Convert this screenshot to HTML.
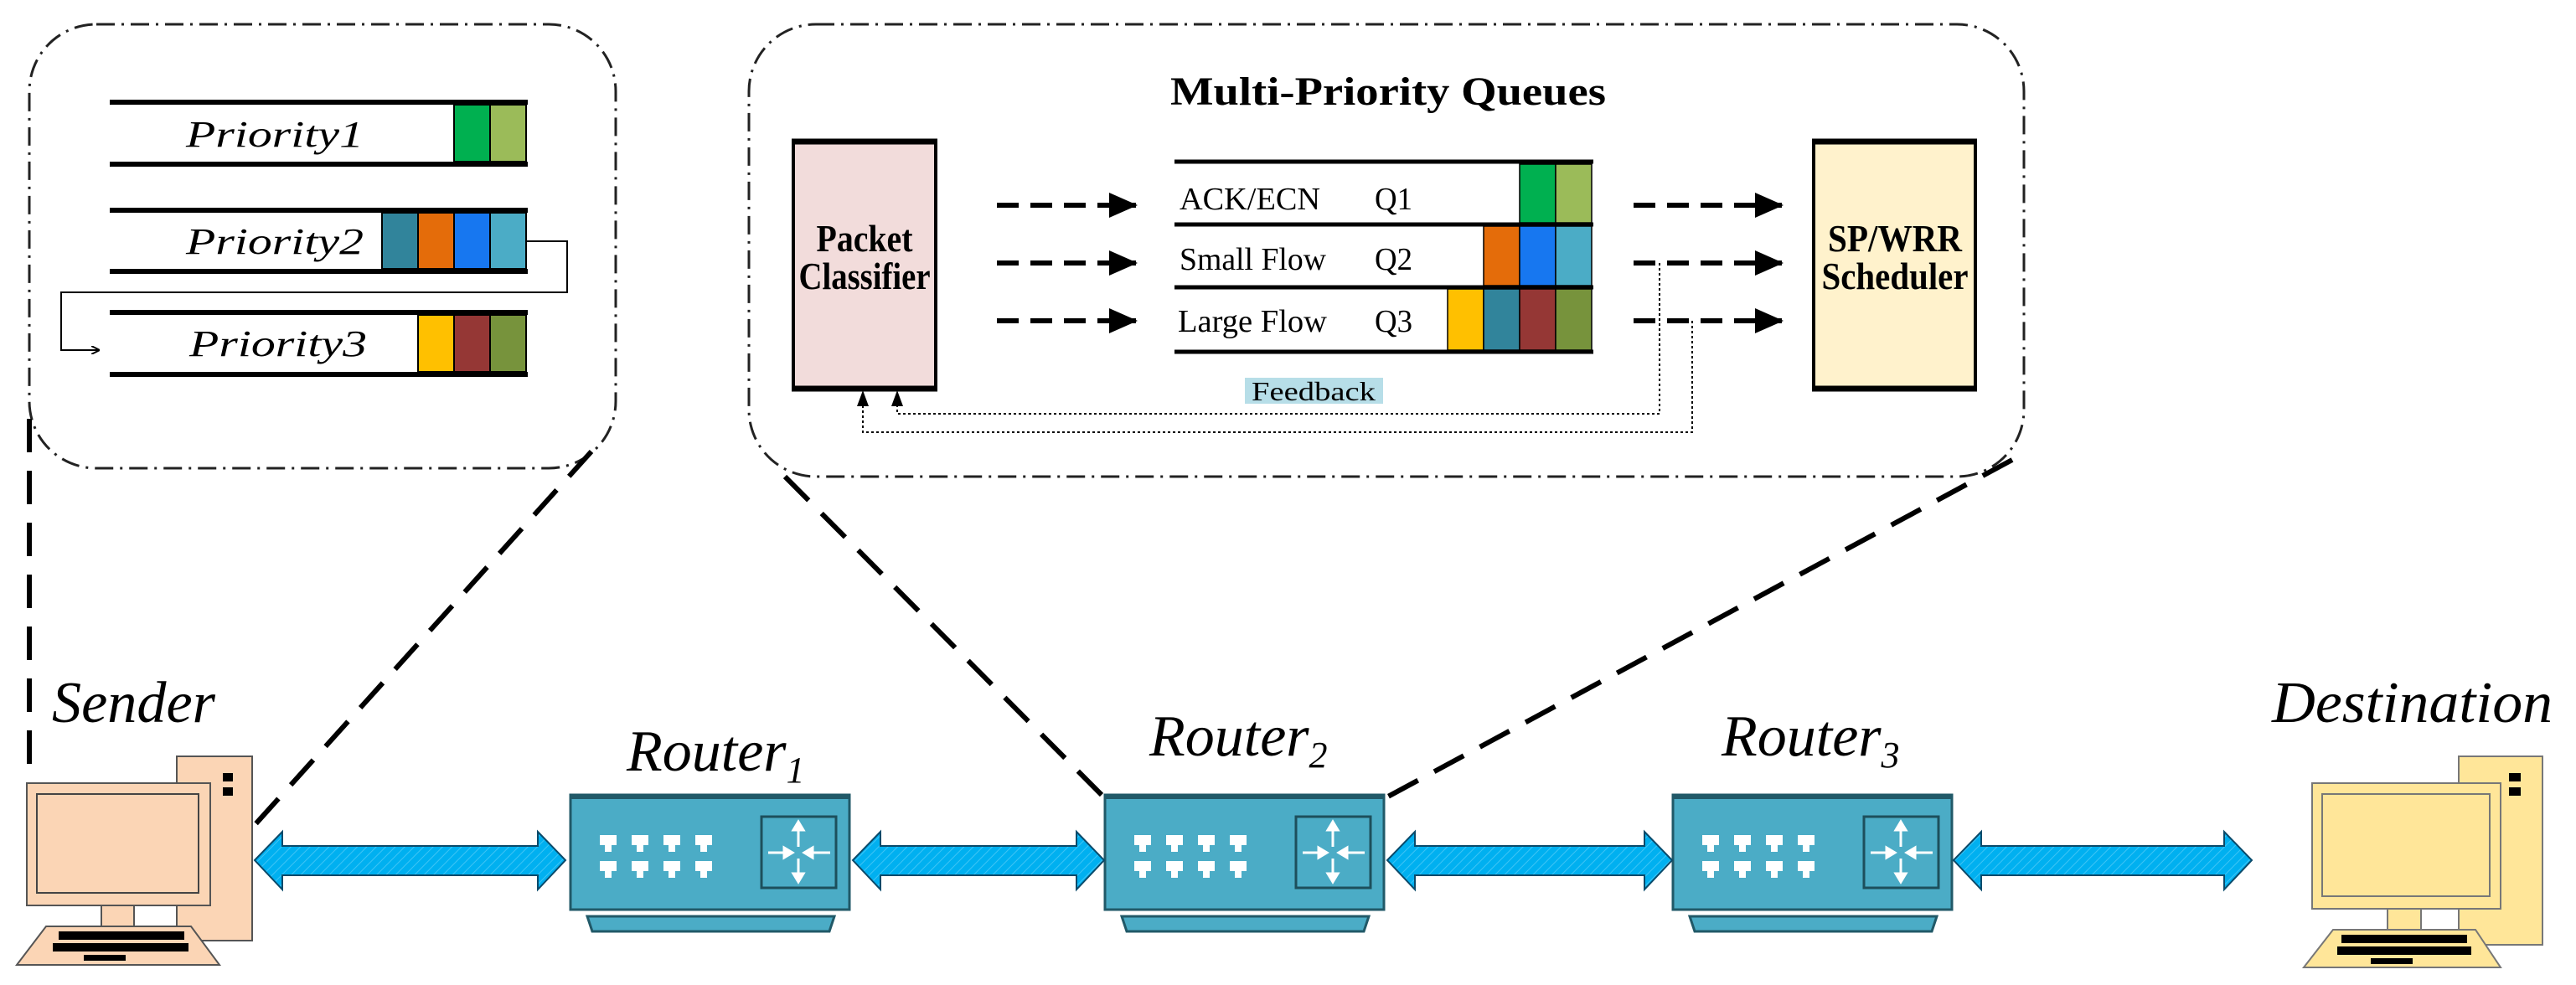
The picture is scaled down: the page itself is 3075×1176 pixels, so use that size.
<!DOCTYPE html>
<html><head><meta charset="utf-8"><style>html,body{margin:0;padding:0;background:#fff}svg{display:block}</style></head>
<body>
<svg width="3075" height="1176" viewBox="0 0 3075 1176" xmlns="http://www.w3.org/2000/svg" font-family="'Liberation Serif',serif">
<defs>
<marker id="ah" markerWidth="10" markerHeight="10" refX="9" refY="5" orient="auto" markerUnits="userSpaceOnUse"><path d="M0,0 L10,5 L0,10" fill="none" stroke="#000" stroke-width="2"/></marker>
<marker id="big" markerWidth="34" markerHeight="30" refX="32" refY="15" orient="auto" markerUnits="userSpaceOnUse"><path d="M0,0 L34,15 L0,30 Z" fill="#000"/></marker>
<g id="router">
<rect x="0" y="0" width="333" height="137" fill="#4bacc6" stroke="#215968" stroke-width="3"/>
<rect x="0" y="0" width="333" height="5" fill="#215968"/>
<path d="M20,145 L315,145 L309,163 L26,163 Z" fill="#4bacc6" stroke="#215968" stroke-width="3"/>
<rect x="228" y="26" width="89" height="85" fill="#4bacc6" stroke="#1d4f5c" stroke-width="3"/>
<g fill="#fff">
<path d="M35,48 h20 v12 h-6 v8 h-8 v-8 h-6z"/><path d="M73,48 h20 v12 h-6 v8 h-8 v-8 h-6z"/><path d="M111,48 h20 v12 h-6 v8 h-8 v-8 h-6z"/><path d="M149,48 h20 v12 h-6 v8 h-8 v-8 h-6z"/>
<path d="M35,79 h20 v12 h-6 v8 h-8 v-8 h-6z"/><path d="M73,79 h20 v12 h-6 v8 h-8 v-8 h-6z"/><path d="M111,79 h20 v12 h-6 v8 h-8 v-8 h-6z"/><path d="M149,79 h20 v12 h-6 v8 h-8 v-8 h-6z"/>
</g>
<g stroke="#fff" stroke-width="3" fill="#fff">
<line x1="272" y1="34" x2="272" y2="62"/><path d="M266,42 L272,32 L278,42Z"/>
<line x1="272" y1="76" x2="272" y2="102"/><path d="M266,94 L272,104 L278,94Z"/>
<line x1="236" y1="69" x2="262" y2="69"/><path d="M255,63 L265,69 L255,75Z"/>
<line x1="282" y1="69" x2="310" y2="69"/><path d="M289,63 L279,69 L289,75Z"/>
</g>
</g>
<pattern id="hatch" width="8" height="8" patternUnits="userSpaceOnUse" patternTransform="rotate(45)"><rect width="8" height="8" fill="#00b0f0"/><line x1="0" y1="0" x2="0" y2="8" stroke="#3fc4f5" stroke-width="2"/></pattern>
</defs>

<rect x="35" y="29" width="700" height="530" rx="80" fill="none" stroke="#222" stroke-width="3" stroke-dasharray="22,8,3,8"/>
<g stroke="#000" stroke-width="6">
<line x1="131" y1="122" x2="630" y2="122"/><line x1="131" y1="196" x2="630" y2="196"/>
<line x1="131" y1="251" x2="630" y2="251"/><line x1="131" y1="324" x2="630" y2="324"/>
<line x1="131" y1="373" x2="630" y2="373"/><line x1="131" y1="447" x2="630" y2="447"/>
</g>
<g stroke="#000" stroke-width="2">
<rect x="542" y="125" width="43" height="68" fill="#00b050"/><rect x="585" y="125" width="43" height="68" fill="#9bbb59"/>
<rect x="456" y="254" width="43" height="67" fill="#31849b"/><rect x="499" y="254" width="43" height="67" fill="#e46c0a"/><rect x="542" y="254" width="43" height="67" fill="#1777f0"/><rect x="585" y="254" width="43" height="67" fill="#4bacc6"/>
<rect x="499" y="376" width="43" height="68" fill="#ffc000"/><rect x="542" y="376" width="43" height="68" fill="#953735"/><rect x="585" y="376" width="43" height="68" fill="#77933c"/>
</g>
<g font-style="italic" font-size="44" fill="#000" lengthAdjust="spacingAndGlyphs">
<text x="222" y="175" textLength="212" lengthAdjust="spacingAndGlyphs">Priority1</text><text x="222" y="303" textLength="212" lengthAdjust="spacingAndGlyphs">Priority2</text><text x="226" y="425" textLength="212" lengthAdjust="spacingAndGlyphs">Priority3</text>
</g>
<path d="M628,288 H677 V349 H73 V418 H118" fill="none" stroke="#000" stroke-width="2" marker-end="url(#ah)"/>

<rect x="894" y="29" width="1522" height="540" rx="80" fill="none" stroke="#222" stroke-width="3" stroke-dasharray="22,8,3,8"/>
<text x="1657" y="125" font-size="48" font-weight="bold" text-anchor="middle" textLength="520" lengthAdjust="spacingAndGlyphs">Multi-Priority Queues</text>
<rect x="947" y="170" width="170" height="293" fill="#f2dcdb" stroke="#000" stroke-width="4"/>
<line x1="945" y1="169" x2="1119" y2="169" stroke="#000" stroke-width="7"/><line x1="945" y1="464" x2="1119" y2="464" stroke="#000" stroke-width="7"/>
<text x="1032" y="300" font-size="46" font-weight="bold" text-anchor="middle" textLength="115" lengthAdjust="spacingAndGlyphs">Packet</text>
<text x="1032" y="345" font-size="46" font-weight="bold" text-anchor="middle" textLength="157" lengthAdjust="spacingAndGlyphs">Classifier</text>
<rect x="2165" y="170" width="193" height="293" fill="#fff2cc" stroke="#000" stroke-width="4"/>
<line x1="2163" y1="169" x2="2360" y2="169" stroke="#000" stroke-width="7"/><line x1="2163" y1="464" x2="2360" y2="464" stroke="#000" stroke-width="7"/>
<text x="2262" y="300" font-size="46" font-weight="bold" text-anchor="middle" textLength="160" lengthAdjust="spacingAndGlyphs">SP/WRR</text>
<text x="2262" y="345" font-size="46" font-weight="bold" text-anchor="middle" textLength="175" lengthAdjust="spacingAndGlyphs">Scheduler</text>

<g stroke="#000" stroke-width="5">
<line x1="1402" y1="193" x2="1902" y2="193"/><line x1="1402" y1="268" x2="1902" y2="268"/>
<line x1="1402" y1="343" x2="1902" y2="343"/><line x1="1402" y1="420" x2="1902" y2="420"/>
</g>
<g stroke="#000" stroke-width="1.5">
<rect x="1814" y="196" width="43" height="70" fill="#00b050"/><rect x="1857" y="196" width="43" height="70" fill="#9bbb59"/>
<rect x="1771" y="270" width="43" height="71" fill="#e46c0a"/><rect x="1814" y="270" width="43" height="71" fill="#1777f0"/><rect x="1857" y="270" width="43" height="71" fill="#4bacc6"/>
<rect x="1728" y="345" width="43" height="73" fill="#ffc000"/><rect x="1771" y="345" width="43" height="73" fill="#31849b"/><rect x="1814" y="345" width="43" height="73" fill="#953735"/><rect x="1857" y="345" width="43" height="73" fill="#77933c"/>
</g>
<g font-size="38" fill="#000">
<text x="1408" y="250" textLength="168" lengthAdjust="spacingAndGlyphs">ACK/ECN</text><text x="1641" y="250" textLength="45" lengthAdjust="spacingAndGlyphs">Q1</text>
<text x="1408" y="322" textLength="175" lengthAdjust="spacingAndGlyphs">Small Flow</text><text x="1641" y="322" textLength="45" lengthAdjust="spacingAndGlyphs">Q2</text>
<text x="1406" y="396" textLength="178" lengthAdjust="spacingAndGlyphs">Large Flow</text><text x="1641" y="396" textLength="45" lengthAdjust="spacingAndGlyphs">Q3</text>
</g>
<g stroke="#000" stroke-width="6" stroke-dasharray="26,14" marker-end="url(#big)">
<line x1="1190" y1="245" x2="1356" y2="245"/><line x1="1190" y1="314" x2="1356" y2="314"/><line x1="1190" y1="383" x2="1356" y2="383"/>
<line x1="1950" y1="245" x2="2127" y2="245"/><line x1="1950" y1="314" x2="2127" y2="314"/><line x1="1950" y1="383" x2="2127" y2="383"/>
</g>
<rect x="1486" y="451" width="165" height="31" fill="#b7dee8"/>
<text x="1568" y="478" font-size="32" text-anchor="middle" textLength="148" lengthAdjust="spacingAndGlyphs">Feedback</text>
<g fill="none" stroke="#000" stroke-width="2" stroke-dasharray="3,3">
<path d="M1981,314 V494 H1071 V472"/>
<path d="M2020,383 V516 H1030 V472"/>
</g>
<path d="M1064,485 L1071,466 L1078,485Z M1023,485 L1030,466 L1037,485Z" fill="#000"/>

<g stroke="#000" stroke-width="6" stroke-dasharray="40,22" fill="none">
<line x1="35" y1="500" x2="35" y2="960"/>
<line x1="706" y1="539" x2="304" y2="985"/>
<line x1="937" y1="569" x2="1318" y2="952"/>
<line x1="2402" y1="549" x2="1655" y2="952"/>
</g>

<g font-style="italic" font-size="70" fill="#000">
<text x="62" y="862" textLength="195" lengthAdjust="spacingAndGlyphs">Sender</text>
<text x="748" y="920">Router<tspan font-size="44" dy="14">1</tspan></text>
<text x="1372" y="902">Router<tspan font-size="44" dy="14">2</tspan></text>
<text x="2055" y="902">Router<tspan font-size="44" dy="14">3</tspan></text>
<text x="2712" y="862" textLength="335" lengthAdjust="spacingAndGlyphs">Destination</text>
</g>

<use href="#router" x="681" y="949"/>
<use href="#router" x="1319" y="949"/>
<use href="#router" x="1997" y="949"/>

<g fill="url(#hatch)" stroke="#0a4a6a" stroke-width="2">
<path d="M304,1027 L337,993 V1010 H642 V993 L675,1027 L642,1062 V1045 H337 V1062 Z"/>
<path d="M1018,1027 L1051,993 V1010 H1285 V993 L1318,1027 L1285,1062 V1045 H1051 V1062 Z"/>
<path d="M1656,1027 L1689,993 V1010 H1963 V993 L1996,1027 L1963,1062 V1045 H1689 V1062 Z"/>
<path d="M2332,1027 L2365,993 V1010 H2655 V993 L2688,1027 L2655,1062 V1045 H2365 V1062 Z"/>
</g>

<g stroke="#555" stroke-width="2" fill="#fbd5b5">
<rect x="211" y="903" width="90" height="220"/>
<rect x="32" y="935" width="219" height="146"/>
<rect x="44" y="948" width="193" height="118" stroke="#444"/>
<rect x="121" y="1081" width="39" height="25"/>
<path d="M55,1106 L228,1106 L262,1152 L20,1152 Z"/>
</g>
<g fill="#000"><rect x="266" y="923" width="12" height="10"/><rect x="266" y="940" width="12" height="10"/>
<rect x="70" y="1112" width="150" height="10"/><rect x="63" y="1126" width="162" height="10"/><rect x="100" y="1140" width="50" height="7"/></g>

<g stroke="#777" stroke-width="2" fill="#ffe699">
<rect x="2935" y="903" width="100" height="225"/>
<rect x="2760" y="935" width="225" height="150"/>
<rect x="2772" y="948" width="200" height="122"/>
<rect x="2850" y="1085" width="40" height="25"/>
<path d="M2785,1110 L2955,1110 L2985,1155 L2750,1155 Z"/>
</g>
<g fill="#000"><rect x="2995" y="923" width="14" height="10"/><rect x="2995" y="940" width="14" height="10"/>
<rect x="2795" y="1116" width="150" height="10"/><rect x="2790" y="1130" width="160" height="10"/><rect x="2830" y="1144" width="50" height="7"/></g>
</svg>
</body></html>
